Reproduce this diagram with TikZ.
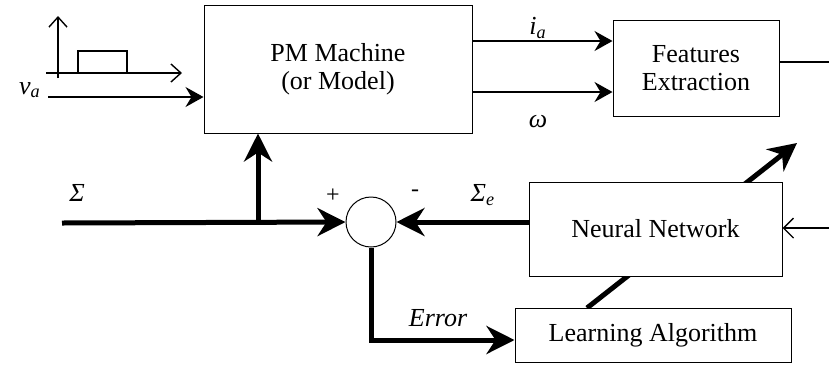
\documentclass[tikz,border=0pt]{standalone}
\usepackage{fontspec}
\setmainfont{Liberation Serif}
\usetikzlibrary{arrows.meta, positioning}

\begin{document}
\begin{tikzpicture}[x=0.5pt, y=-0.5pt,
    block/.style={draw, line width=0.5pt, fill=white, align=center, font=\fontsize{13}{14}\selectfont},
    thin arrow/.style={line width=0.7pt, -{Stealth[length=9pt, width=10pt, inset=3pt]}},
    thick arrow/.style={line width=2.5pt, -{Stealth[length=14pt, width=14pt, inset=4.5pt]}},
    lbl/.style={font=\fontsize{13}{15}\selectfont\itshape, inner sep=0pt},
    sgn/.style={font=\fontsize{12}{14}\selectfont, inner sep=0pt}]
   \useasboundingbox (0,0) rectangle (829,365);

   % Weights into the machine model, drawn first so the network box hides it
   \coordinate (wstart) at (587,308);
   \coordinate (wend) at (797,143);
   \draw[thick arrow] (wstart) -- (wend);

   % Blocks
   \node[block, minimum width=134pt, minimum height=64pt] (pm) at (338,69) {PM Machine\\(or Model)};
   \node[block, minimum width=83pt, minimum height=48pt] (feat) at (696,68) {Features\\Extraction};
   \node[block, minimum width=126.5pt, minimum height=47pt] (nn) at (655.5,229) {Neural Network};
   \node[block, minimum width=138pt, minimum height=27pt] (learn) at (653,335) {Learning Algorithm};
   \node[draw, circle, line width=0.5pt, minimum size=25pt, inner sep=0pt] (sum) at (371,222) {};

   % Test signal
   \draw[line width=0.7pt, -{Straight Barb[length=5pt, width=9pt]}] (58,78) -- (58,16);
   \draw[line width=0.7pt, -{Straight Barb[length=5pt, width=9pt]}] (46,73) -- (182,73);
   \draw[line width=1pt] (58,73) -- (78,73) -- (78,51) -- (127,51) -- (127,73) -- (160,73);

   % Free ends
   \coordinate (vain) at (48,97);
   \coordinate (sig) at (62,223);
   \coordinate (br) at (258,223);
   \coordinate (fout) at (829,62);
   \coordinate (nnin) at (829,228);
   \coordinate (err) at (371,340);

   % Connections
   \draw[thin arrow] (vain) -- (pm.west |- vain);
   \draw[thin arrow] (pm.east |- 0,41) -- (feat.west |- 0,41);
   \draw[thin arrow] (pm.east |- 0,92) -- (feat.west |- 0,92);
   \draw[line width=0.7pt] (feat.east |- fout) -- (fout);
   \draw[line width=0.7pt, -{Straight Barb[length=5pt, width=10pt]}] (nnin) -- (nn.east |- nnin);
   \draw[thick arrow] (sig) -- (sum.west);
   \draw[thick arrow] (br) -- (pm.south -| br);
   \draw[thick arrow] (nn.west |- sum) -- (sum.east);
   \draw[thick arrow] (sum.south) -- (err) -- (learn.west |- err);

   % Labels
   \node[lbl] (va) at (30,90) {v\textsubscript{a}};
   \node[lbl] (ia) at (538,28) {i\textsubscript{a}};
   \node[lbl] (om) at (538,122) {ω};
   \node[lbl] (sg) at (77,193) {Σ};
   \node[lbl] (sge) at (483,195) {Σ\textsubscript{e}};
   \node[lbl] (er) at (438,318) {Error};
   \node[sgn] (plus) at (333,196) {+};
   \node[sgn] (minus) at (415,193) {-};
\end{tikzpicture}
\end{document}
